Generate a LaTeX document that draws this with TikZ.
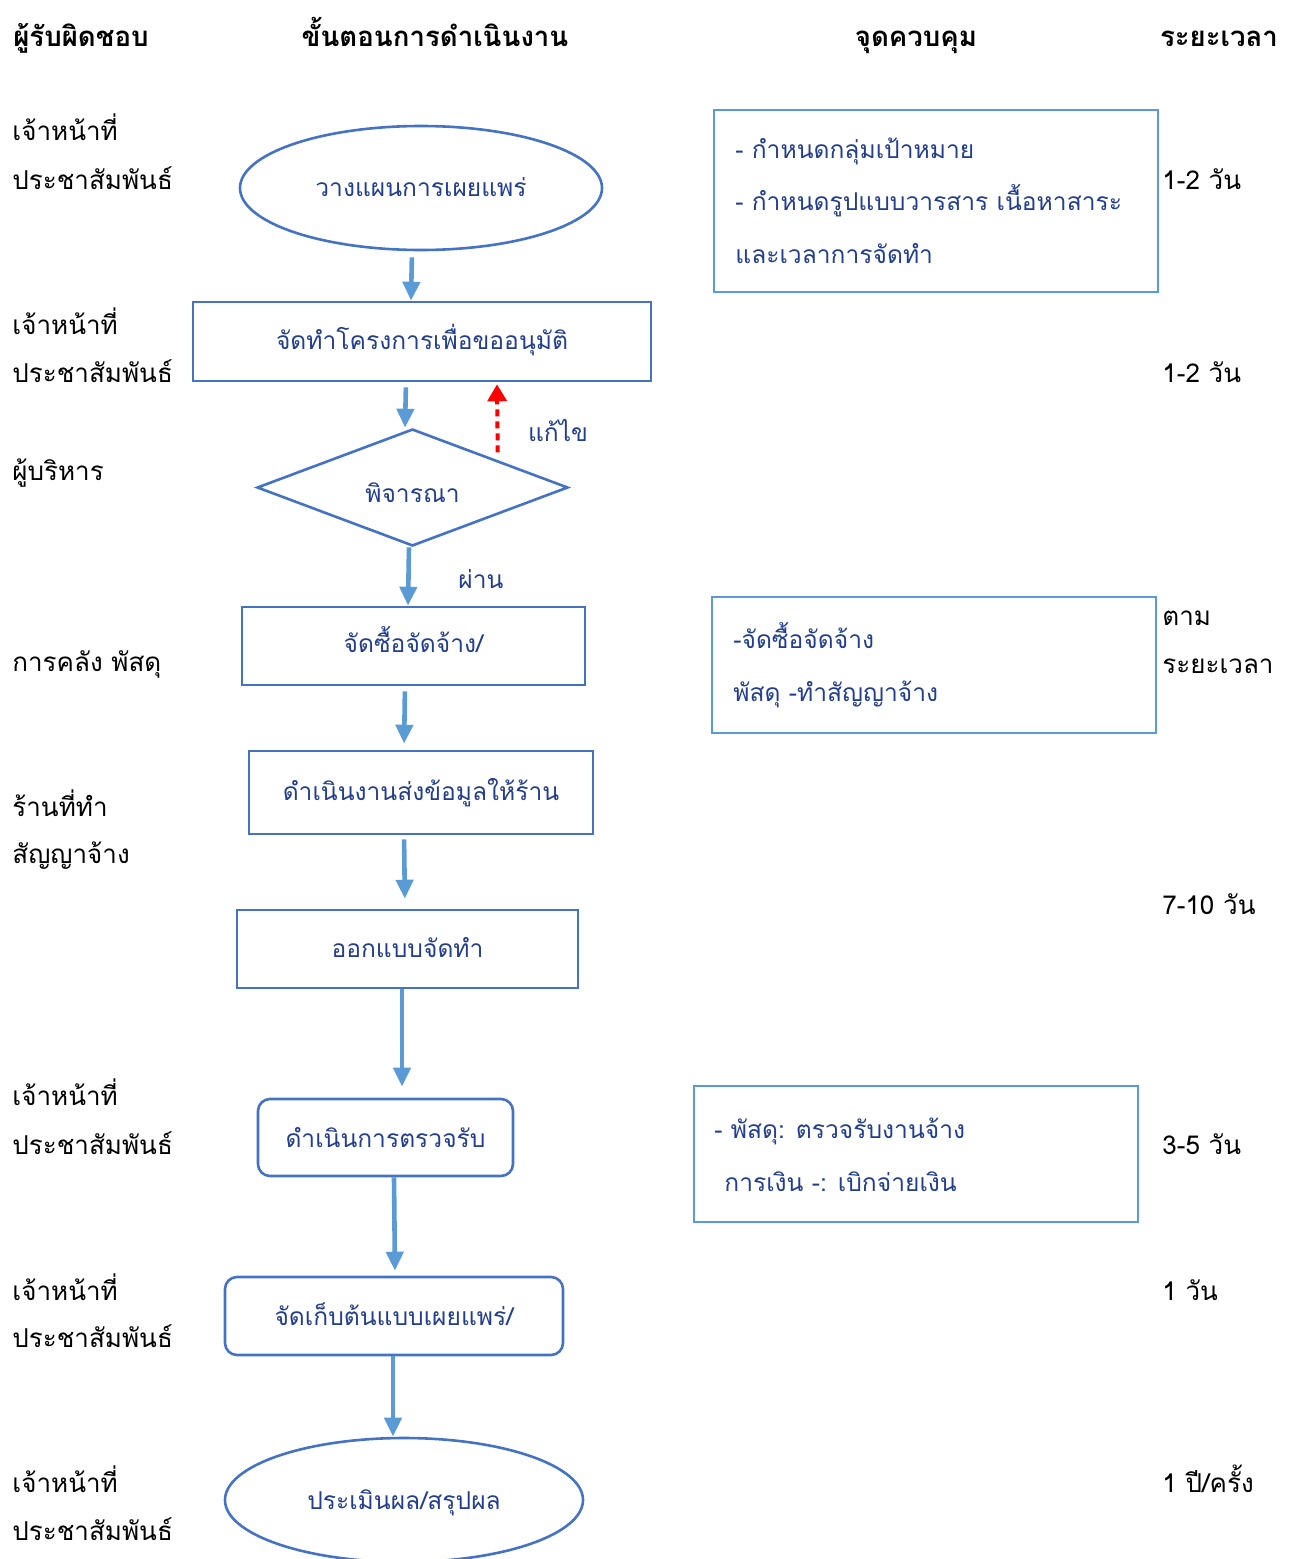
\documentclass[tikz,border=0pt]{standalone}
\usepackage{fontspec}
\setmainfont[Script=Thai]{Loma}
\usetikzlibrary{shapes.geometric,arrows.meta}
\definecolor{shapeblue}{RGB}{68,114,196}
\definecolor{arrowblue}{RGB}{91,155,213}
\definecolor{txtblue}{RGB}{35,62,140}
\begin{document}
\begin{tikzpicture}[x=0.5pt,y=-0.5pt,
  hdr/.style={font=\bfseries\fontsize{13.8}{16}\selectfont, inner sep=0, anchor=mid, yshift=-1.5pt},
  lbl/.style={font=\fontsize{13}{15}\selectfont, inner sep=0, anchor=mid west, yshift=-1.5pt},
  ftxt/.style={font=\fontsize{12.3}{15}\selectfont, text=txtblue},
  ctxt/.style={ftxt, inner sep=0, anchor=mid west, yshift=-1.5pt},
  box/.style={draw=shapeblue, line width=1.3pt, inner sep=0, ftxt},
  ctrl/.style={draw=arrowblue, line width=1.2pt, inner sep=0},
  flow/.style={draw=arrowblue, line width=2.3pt, -{Triangle[length=9.5pt,width=8.5pt]}},
  redflow/.style={draw=red, line width=2pt, dash pattern=on 3.5pt off 2.5pt, -{Triangle[length=8.5pt,width=9.5pt]}}
]
\useasboundingbox (0,0) rectangle (1291,1559);

% headers
\node[hdr] (h1) at (81,38) {ผู้รับผิดชอบ};
\node[hdr] (h2) at (435,38) {ขั้นตอนการดำเนินงาน};
\node[hdr] (h3) at (916,38) {จุดควบคุม};
\node[hdr] (h4) at (1219,38) {ระยะเวลา};

% left column
\node[lbl] (l1a) at (12,132) {เจ้าหน้าที่};
\node[lbl] (l1b) at (12,181) {ประชาสัมพันธ์};
\node[lbl] (l2a) at (12,326) {เจ้าหน้าที่};
\node[lbl] (l2b) at (12,374) {ประชาสัมพันธ์};
\node[lbl] (l3) at (12,472) {ผู้บริหาร};
\node[lbl] (l4) at (12,663) {การคลัง พัสดุ};
\node[lbl] (l5a) at (12,808) {ร้านที่ทำ};
\node[lbl] (l5b) at (12,855) {สัญญาจ้าง};
\node[lbl] (l6a) at (12,1097) {เจ้าหน้าที่};
\node[lbl] (l6b) at (12,1146) {ประชาสัมพันธ์};
\node[lbl] (l7a) at (12,1292) {เจ้าหน้าที่};
\node[lbl] (l7b) at (12,1339) {ประชาสัมพันธ์};
\node[lbl] (l8a) at (12,1484) {เจ้าหน้าที่};
\node[lbl] (l8b) at (12,1532) {ประชาสัมพันธ์};

% flow shapes
\node[box, ellipse, minimum width=181pt, minimum height=62pt] (e1) at (421,188) {};
\node[ftxt, inner sep=0, anchor=mid, yshift=-1.5pt] (e1t) at (421,188) {วางแผนการเผยแพร่};
\node[box, rectangle, minimum width=229pt, minimum height=39.5pt] (r2) at (422,341.5) {};
\node[ftxt, inner sep=0, anchor=mid, yshift=-1.5pt] (r2t) at (422,341.5) {จัดทำโครงการเพื่อขออนุมัติ};
\node[box, diamond, minimum width=155.5pt, minimum height=58.5pt] (d3) at (412.5,487.5) {};
\node[ftxt, inner sep=0, anchor=mid, yshift=-1.5pt] (d3t) at (412.5,494) {พิจารณา};
\node[box, rectangle, minimum width=171.5pt, minimum height=39pt] (r4) at (413.5,646) {};
\node[ftxt, inner sep=0, anchor=mid, yshift=-1.5pt] (r4t) at (413.5,644) {จัดซื้อจัดจ้าง/};
\node[box, rectangle, minimum width=172pt, minimum height=41.5pt] (r5) at (421,792.5) {};
\node[ftxt, inner sep=0, anchor=mid, yshift=-1.5pt] (r5t) at (421,792) {ดำเนินงานส่งข้อมูลให้ร้าน};
\node[box, rectangle, minimum width=170.5pt, minimum height=39pt] (r6) at (407.5,949) {};
\node[ftxt, inner sep=0, anchor=mid, yshift=-1.5pt] (r6t) at (407.5,949) {ออกแบบจัดทำ};
\node[box, rectangle, rounded corners=6pt, minimum width=127.5pt, minimum height=38.5pt] (r7) at (385.5,1137.5) {};
\node[ftxt, inner sep=0, anchor=mid, yshift=-1.5pt] (r7t) at (385.5,1139) {ดำเนินการตรวจรับ};
\node[box, rectangle, rounded corners=6pt, minimum width=169pt, minimum height=39pt] (r8) at (394,1316) {};
\node[ftxt, inner sep=0, anchor=mid, yshift=-1.5pt] (r8t) at (394,1317) {จัดเก็บต้นแบบเผยแพร่/};
\node[box, ellipse, minimum width=179pt, minimum height=62pt] (e9) at (404,1500) {};
\node[ftxt, inner sep=0, anchor=mid, yshift=-1.5pt] (e9t) at (404,1501) {ประเมินผล/สรุปผล};

% arrows
\draw[flow, shorten <=3pt] ([xshift=-4.5pt]e1.south) -- ([xshift=-5.5pt]r2.north);
\draw[flow, shorten <=2.5pt] ([xshift=-8pt]r2.south) -- ([xshift=-3.75pt]d3.north);
\draw[flow] ([xshift=-1.75pt]d3.south) -- ([xshift=-2.75pt]r4.north);
\draw[flow, shorten <=2.5pt, shorten >=3pt] ([xshift=-4.25pt]r4.south) -- ([xshift=-8.5pt]r5.north);
\draw[flow, shorten <=2pt, shorten >=5pt] ([xshift=-8.5pt]r5.south) -- ([xshift=-1.25pt]r6.north);
\draw[flow, shorten >=5.5pt] ([xshift=-2.75pt]r6.south) -- ([xshift=8.25pt]r7.north);
\draw[flow, shorten >=2.5pt] ([xshift=4.25pt]r7.south) -- ([xshift=0.5pt]r8.north);
\draw[flow] ([xshift=-0.5pt]r8.south) -- ([xshift=-5.5pt]e9.north);
\draw[redflow] ([xshift=3.4pt,yshift=2.6pt]d3.north east) -- ([xshift=37.5pt,yshift=-1pt]r2.south);

\node[ftxt, inner sep=0, anchor=mid, yshift=-1.5pt] (fix) at (558,433) {แก้ไข};
\node[ftxt, inner sep=0, anchor=mid, yshift=-1.5pt] (pass) at (481,580) {ผ่าน};

% control boxes
\node[ctrl, rectangle, minimum width=222pt, minimum height=91pt] (cA) at (936,201) {};
\node[ctxt] (cA1) at (735,150) {- กำหนดกลุ่มเป้าหมาย};
\node[ctxt] (cA2) at (735,202) {- กำหนดรูปแบบวารสาร เนื้อหาสาระ};
\node[ctxt] (cA3) at (735,255) {และเวลาการจัดทำ};

\node[ctrl, rectangle, minimum width=222pt, minimum height=68pt] (cB) at (934,665) {};
\node[ctxt] (cB1) at (733,640) {-จัดซื้อจัดจ้าง};
\node[ctxt] (cB2) at (733,693) {พัสดุ -ทำสัญญาจ้าง};

\node[ctrl, rectangle, minimum width=222pt, minimum height=68pt] (cC) at (916,1154) {};
\node[ctxt] (cC1) at (714,1130) {- พัสดุ: ตรวจรับงานจ้าง};
\node[ctxt] (cC2) at (724,1183) {การเงิน -: เบิกจ่ายเงิน};

% time column
\node[lbl] (t1) at (1162,181) {1-2 วัน};
\node[lbl] (t2) at (1162,374) {1-2 วัน};
\node[lbl] (t3a) at (1162,617) {ตาม};
\node[lbl] (t3b) at (1162,665) {ระยะเวลา};
\node[lbl] (t4) at (1162,906) {7-10 วัน};
\node[lbl] (t5) at (1162,1146) {3-5 วัน};
\node[lbl] (t6) at (1162,1292) {1 วัน};
\node[lbl] (t7) at (1162,1484) {1 ปี/ครั้ง};
\end{tikzpicture}
\end{document}
